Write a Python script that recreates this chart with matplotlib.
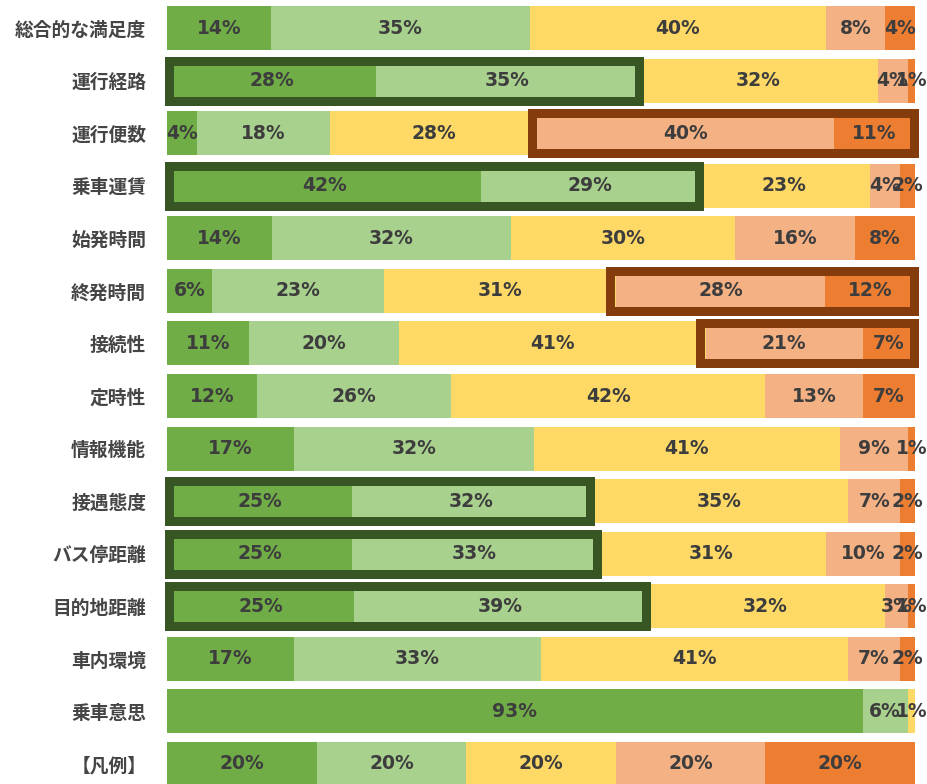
import matplotlib
matplotlib.use("Agg")
import matplotlib.pyplot as plt
from matplotlib.patches import Rectangle

categories = ["総合的な満足度", "運行経路", "運行便数", "乗車運賃", "始発時間", "終発時間",
              "接続性", "定時性", "情報機能", "接遇態度", "バス停距離", "目的地距離",
              "車内環境", "乗車意思", "【凡例】"]

s1 = [14, 28, 4, 42, 14, 6, 11, 12, 17, 25, 25, 25, 17, 93, 20]
s2 = [35, 35, 18, 29, 32, 23, 20, 26, 32, 32, 33, 39, 33, 6, 20]
s3 = [40, 32, 28, 23, 30, 31, 41, 42, 41, 35, 31, 32, 41, 1, 20]
s4 = [8, 4, 40, 4, 16, 28, 21, 13, 9, 7, 10, 3, 7, 0, 20]
s5 = [4, 1, 11, 2, 8, 12, 7, 7, 1, 2, 2, 1, 2, 0, 20]

green_boxes = [1, 3, 9, 10, 11]   # rows highlighted on segments 1-2
brown_boxes = [2, 5, 6]           # rows highlighted on segments 4-5

colors = ["#70AD47", "#A9D18E", "#FFD966", "#F4B183", "#ED7D31"]
series = [s1, s2, s3, s4, s5]

W, H, DPI = 9.28, 7.84, 100
fig = plt.figure(figsize=(W, H), dpi=DPI)
ax = fig.add_axes([167 / 928, 0, (915 - 167) / 928, 1])

n = len(categories)
row_px = 52.57
ax.set_xlim(0, 100)
ax.set_ylim(n - 1 + 20 / row_px, -28 / row_px)
bar_h = 44 / row_px
px_x = 100 / 748.0
px_y = 1 / row_px

label_font = {"family": ["DejaVu Sans"], "weight": "bold", "size": 13.5}

bounds = []
for i in range(n):
    vals = [s[i] for s in series]
    tot = sum(vals)
    norm = [v / tot * 100 for v in vals]
    left = 0
    b = []
    for k, (v, nv) in enumerate(zip(vals, norm)):
        ax.barh(i, nv, left=left, height=bar_h, color=colors[k], edgecolor="none", zorder=2)
        b.append((left, left + nv))
        if v > 0:
            ax.text(left + nv / 2, i, f"{v}%", ha="center", va="center",
                    color="#3d3d3d", fontdict=label_font, zorder=5)
        left += nv
    bounds.append(b)

lw_px = 9
lw_pt = lw_px * 72 / DPI


def box(i, k0, k1, color, extra_left=1, extra_right=1):
    x0 = bounds[i][k0][0] - extra_left * px_x
    x1 = bounds[i][k1][1] + extra_right * px_x
    y0 = i - bar_h / 2 - 2.5 * px_y
    y1 = i + bar_h / 2 + 2.5 * px_y
    hx = lw_px / 2 * px_x
    hy = lw_px / 2 * px_y
    r = Rectangle((x0 + hx, y0 + hy), (x1 - x0) - 2 * hx, (y1 - y0) - 2 * hy,
                  fill=False, edgecolor=color, linewidth=lw_pt, zorder=4,
                  clip_on=False, joinstyle="miter")
    ax.add_patch(r)


for i in green_boxes:
    box(i, 0, 1, "#375623", extra_left=2, extra_right=5)
for i in brown_boxes:
    box(i, 3, 4, "#843C0C", extra_left=10, extra_right=4)

ax.set_yticks(range(n))
ax.set_yticklabels(categories)
for t in ax.get_yticklabels():
    t.set_fontfamily(["Noto Sans CJK JP", "DejaVu Sans"])
    t.set_fontweight("bold")
    t.set_fontsize(13.5)
    t.set_color("#454545")
ax.tick_params(axis="y", length=0, pad=15)
ax.set_xticks([])
for sp in ax.spines.values():
    sp.set_visible(False)

fig.savefig("out.png", dpi=DPI, facecolor="white")
